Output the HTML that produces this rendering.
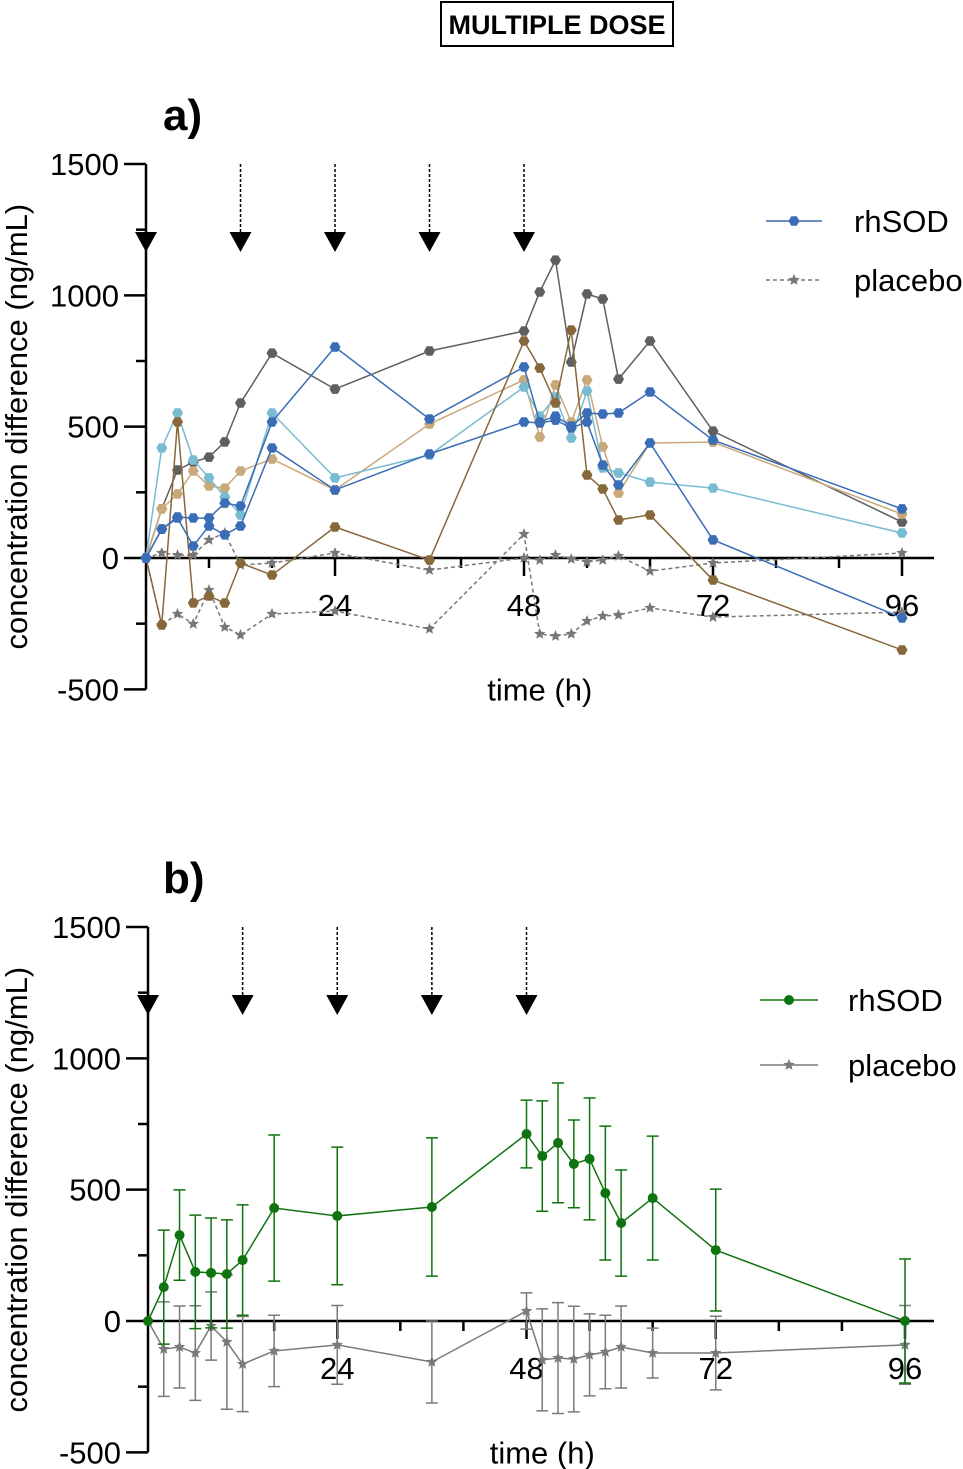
<!DOCTYPE html>
<html><head><meta charset="utf-8"><style>
body{margin:0;background:#fff;}
svg{display:block;font-family:"Liberation Sans",Arial,sans-serif;}
</style></head><body>
<svg id="fig" width="963" height="1469" viewBox="0 0 963 1469" xmlns="http://www.w3.org/2000/svg">
<rect x="441" y="2" width="232" height="44" fill="#fff" stroke="#000" stroke-width="2"/>
<text x="557" y="34" text-anchor="middle" font-size="27" font-weight="bold">MULTIPLE DOSE</text>
<text x="163" y="130" font-size="44" font-weight="bold">a)</text>
<text x="163" y="893" font-size="44" font-weight="bold">b)</text>
<g id="pa"></g>
<g id="pb"></g>
</svg>
<script>
const times=[0,2,4,6,8,10,12,16,24,36,48,50,52,54,56,58,60,64,72,96];
const doseTimes=[0,12,24,36,48];
const yTicks=[1500,1000,500,0,-500];
const xTickLabels=[24,48,72,96];
const seriesDarkGray=[0,187,335,365,384,442,590,780,643,788,864,1013,1134,746,1005,986,681,826,483,137];
const seriesLightBlue=[0,419,552,373,305,232,164,552,305,392,651,540,613,457,636,343,324,289,266,95];
const seriesTan=[0,187,244,331,274,266,331,377,259,510,678,461,659,518,678,423,247,438,441,167];
const seriesBrown=[0,-255,518,-171,-145,-171,-19,-65,118,-8,826,723,590,868,316,263,145,164,-84,-350];
const seriesBlue1=[0,110,156,152,152,209,198,518,803,529,727,518,540,502,552,548,552,632,449,187];
const seriesBlue2=[0,110,152,46,122,88,122,419,259,396,518,514,525,495,518,354,278,438,69,-228];
const placeboA1=[0,19,11,11,69,95,-27,-19,19,-46,0,-8,11,-4,-15,-8,8,-50,-19,19];
const placeboA2=[0,-255,-213,-251,-122,-263,-293,-213,-202,-270,91,-289,-297,-289,-240,-221,-217,-190,-225,-206];
const rhsodMean=[0,129,327,187,183,179,232,430,400,434,712,628,678,598,617,487,373,468,270,0];
const rhsodErr=[0,217,172,216,209,206,210,278,262,263,129,210,228,167,232,255,202,236,232,236];
const placeboMean=[0,-107,-99,-122,-19,-80,-164,-114,-91,-156,38,-148,-141,-145,-129,-118,-99,-122,-122,-91];
const placeboErr=[0,180,156,180,130,256,181,136,150,156,69,194,211,201,156,140,156,95,140,150];

const NS="http://www.w3.org/2000/svg";
function mk(parent,tag,attrs){const e=document.createElementNS(NS,tag);for(const k in attrs)e.setAttribute(k,attrs[k]);parent.appendChild(e);return e;}

function hexPts(cx,cy,r){let p=[];for(let i=0;i<6;i++){const a=Math.PI/3*i;p.push((cx+r*Math.cos(a)).toFixed(1)+","+(cy+r*Math.sin(a)).toFixed(1));}return p.join(" ");}
function starPts(cx,cy,r){let p=[];for(let i=0;i<10;i++){const rr=i%2?r*0.45:r;const a=-Math.PI/2+Math.PI/5*i;p.push((cx+rr*Math.cos(a)).toFixed(1)+","+(cy+rr*Math.sin(a)).toFixed(1));}return p.join(" ");}

function drawAxes(g,X,Y,x0,arrowTop,arrowY){
  const ax=mk(g,'line',{x1:x0,y1:Y(1500),x2:x0,y2:Y(-500),stroke:'#000','stroke-width':2.5});
  
  for(let v=-500;v<=1500;v+=250){
    const big=v%500===0;
    const t=mk(g,'line',{x1:x0-(big?22:10),y1:Y(v),x2:x0,y2:Y(v),stroke:'#000','stroke-width':2.5});
    
  }
  yTicks.forEach(v=>{
    const t=mk(g,'text',{x:x0-27,y:Y(v)+11,'text-anchor':'end','font-size':31});
    t.textContent=v;
    
  });
  const xa=mk(g,'line',{x1:x0,y1:Y(0),x2:934,y2:Y(0),stroke:'#000','stroke-width':2.5});
  
  for(let h=8;h<=96;h+=8){
    const big=h%24===0;
    const t=mk(g,'line',{x1:X(h),y1:Y(0),x2:X(h),y2:Y(0)+(big?18:10),stroke:'#000','stroke-width':2.5});
    
  }
  xTickLabels.forEach(h=>{
    const t=mk(g,'text',{x:X(h),y:Y(0)+58,'text-anchor':'middle','font-size':31});
    t.textContent=h;
    
  });
  const xt=mk(g,'text',{x:X(50),y:Y(-500)+11,'text-anchor':'middle','font-size':31});
  xt.textContent='time (h)';
  
  const yc=(Y(1500)+Y(-500))/2;
  const yt=mk(g,'text',{x:0,y:0,'text-anchor':'middle','font-size':31,transform:`translate(27,${yc}) rotate(-90)`});
  yt.textContent='concentration difference (ng/mL)';
  
  doseTimes.forEach(h=>{
    const x=X(h);
    if(h>0){const l=mk(g,'line',{x1:x,y1:arrowTop,x2:x,y2:arrowY,stroke:'#000','stroke-width':1.5,'stroke-dasharray':'3,2'});
      }
    const a=mk(g,'polygon',{points:`${x-11},${arrowY} ${x+11},${arrowY} ${x},${arrowY+20}`,fill:'#000'});
    
  });
}

// Panel a
(function(){
  const g=document.getElementById('pa');
  const x0=146,xs=(902-146)/96;
  const X=h=>x0+h*xs, Y=v=>558-v*(558-164)/1500;
  drawAxes(g,X,Y,x0,164,232);
  function line(vals,color,dash,name,marker){
    const pl=mk(g,'polyline',{points:times.map((t,i)=>X(t)+','+Y(vals[i])).join(' '),fill:'none',stroke:color,'stroke-width':1.5});
    if(dash)pl.setAttribute('stroke-dasharray','4,3');
    
    times.forEach((t,i)=>{
      const m=marker==='star'?mk(g,'polygon',{points:starPts(X(t),Y(vals[i]),6),fill:color}):mk(g,'polygon',{points:hexPts(X(t),Y(vals[i]),5.5),fill:color});
      
    });
  }
  line(placeboA1,'#777',true,'placebo-a1','star');
  line(placeboA2,'#777',true,'placebo-a2','star');
  line(seriesDarkGray,'#5f5f5f',false,'subject-darkgray','hex');
  line(seriesTan,'#c9a97c',false,'subject-tan','hex');
  line(seriesLightBlue,'#78bcd2',false,'subject-lightblue','hex');
  line(seriesBrown,'#86683b',false,'subject-brown','hex');
  line(seriesBlue2,'#3a6db6',false,'subject-blue2','hex');
  line(seriesBlue1,'#3a6db6',false,'subject-blue1','hex');
  let l=mk(g,'line',{x1:766,y1:221,x2:822,y2:221,stroke:'#3a6db6','stroke-width':1.5});
  
  let m=mk(g,'polygon',{points:hexPts(794,221,5.5),fill:'#3a6db6'});
  
  let t=mk(g,'text',{x:854,y:232,'font-size':31});t.textContent='rhSOD';
  
  l=mk(g,'line',{x1:766,y1:280,x2:822,y2:280,stroke:'#777','stroke-width':1.5,'stroke-dasharray':'4,3'});
  
  m=mk(g,'polygon',{points:starPts(794,280,6),fill:'#777'});
  
  t=mk(g,'text',{x:854,y:291,'font-size':31});t.textContent='placebo';
  
})();

// Panel b
(function(){
  const g=document.getElementById('pb');
  const x0=148,xs=(905-148)/96;
  const X=h=>x0+h*xs, Y=v=>1321-v*(1321-927)/1500;
  drawAxes(g,X,Y,x0,927,995);
  function series(mean,err,color,name,marker){
    times.forEach((t,i)=>{
      if(err[i]>0){
        const x=X(t),y1=Y(mean[i]+err[i]),y2=Y(mean[i]-err[i]);
        const e=mk(g,'path',{d:`M${x},${y1}V${y2}M${x-6},${y1}H${x+6}M${x-6},${y2}H${x+6}`,stroke:color,'stroke-width':1.5,fill:'none'});
        
      }
    });
    const pl=mk(g,'polyline',{points:times.map((t,i)=>X(t)+','+Y(mean[i])).join(' '),fill:'none',stroke:color,'stroke-width':1.5});
    
    times.forEach((t,i)=>{
      const m=marker==='star'?mk(g,'polygon',{points:starPts(X(t),Y(mean[i]),6),fill:color}):mk(g,'circle',{cx:X(t),cy:Y(mean[i]),r:5,fill:color});
      
    });
  }
  series(placeboMean,placeboErr,'#7a7a7a','placebo','star');
  series(rhsodMean,rhsodErr,'#0f730f','rhsod','circle');
  let l=mk(g,'line',{x1:760,y1:1000,x2:818,y2:1000,stroke:'#0f730f','stroke-width':1.5});
  
  let m=mk(g,'circle',{cx:789,cy:1000,r:5,fill:'#0f730f'});
  
  let t=mk(g,'text',{x:848,y:1011,'font-size':31});t.textContent='rhSOD';
  
  l=mk(g,'line',{x1:760,y1:1065,x2:818,y2:1065,stroke:'#7a7a7a','stroke-width':1.5});
  
  m=mk(g,'polygon',{points:starPts(789,1065,6),fill:'#7a7a7a'});
  
  t=mk(g,'text',{x:848,y:1076,'font-size':31});t.textContent='placebo';
  
})();
</script>
</body></html>
